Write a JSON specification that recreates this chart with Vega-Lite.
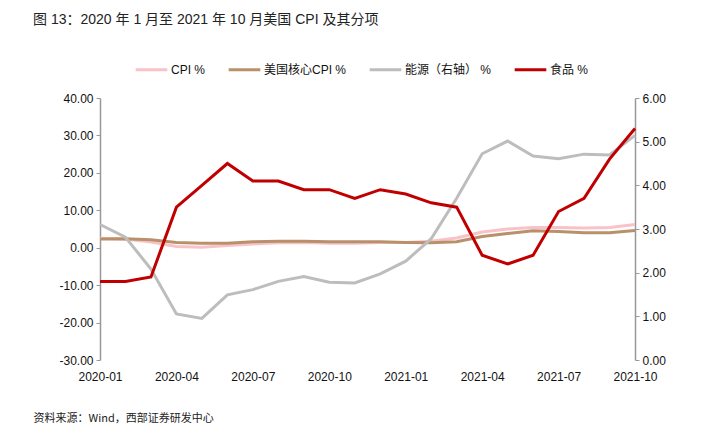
{
  "$schema": "https://vega.github.io/schema/vega-lite/v6.json",
  "width": 535,
  "height": 262,
  "autosize": {"type": "none"},
  "padding": {"left": 100, "top": 98, "right": 79, "bottom": 74},
  "background": "white",
  "title": {
    "text": "图 13：2020 年 1 月至 2021 年 10 月美国 CPI 及其分项",
    "anchor": "start",
    "frame": "group",
    "dx": -67,
    "offset": 25,
    "fontSize": 14,
    "fontWeight": "normal",
    "font": "Liberation Sans, Noto Sans CJK SC",
    "color": "#222222"
  },
  "config": {
    "view": {"stroke": null},
    "font": "Liberation Sans, Noto Sans CJK SC",
    "axis": {"labelFont": "Liberation Sans", "labelFontSize": 12, "labelColor": "#111111", "grid": false},
    "legend": {"labelFont": "Liberation Sans, Noto Sans CJK SC", "labelFontSize": 12, "labelColor": "#111111"}
  },
  "data": {
    "values": [
      {"month": "2020-01", "CPI": 2.5, "core": 2.3, "energy": 6.2, "food": 1.8},
      {"month": "2020-02", "CPI": 2.3, "core": 2.4, "energy": 2.8, "food": 1.8},
      {"month": "2020-03", "CPI": 1.5, "core": 2.1, "energy": -5.7, "food": 1.9},
      {"month": "2020-04", "CPI": 0.3, "core": 1.4, "energy": -17.7, "food": 3.5},
      {"month": "2020-05", "CPI": 0.1, "core": 1.2, "energy": -18.9, "food": 4.0},
      {"month": "2020-06", "CPI": 0.6, "core": 1.2, "energy": -12.6, "food": 4.5},
      {"month": "2020-07", "CPI": 1.0, "core": 1.6, "energy": -11.2, "food": 4.1},
      {"month": "2020-08", "CPI": 1.3, "core": 1.7, "energy": -9.0, "food": 4.1},
      {"month": "2020-09", "CPI": 1.4, "core": 1.7, "energy": -7.7, "food": 3.9},
      {"month": "2020-10", "CPI": 1.2, "core": 1.6, "energy": -9.2, "food": 3.9},
      {"month": "2020-11", "CPI": 1.2, "core": 1.6, "energy": -9.4, "food": 3.7},
      {"month": "2020-12", "CPI": 1.4, "core": 1.6, "energy": -7.0, "food": 3.9},
      {"month": "2021-01", "CPI": 1.4, "core": 1.4, "energy": -3.6, "food": 3.8},
      {"month": "2021-02", "CPI": 1.7, "core": 1.3, "energy": 2.4, "food": 3.6},
      {"month": "2021-03", "CPI": 2.6, "core": 1.6, "energy": 13.2, "food": 3.5},
      {"month": "2021-04", "CPI": 4.2, "core": 3.0, "energy": 25.1, "food": 2.4},
      {"month": "2021-05", "CPI": 5.0, "core": 3.8, "energy": 28.5, "food": 2.2},
      {"month": "2021-06", "CPI": 5.4, "core": 4.5, "energy": 24.5, "food": 2.4},
      {"month": "2021-07", "CPI": 5.4, "core": 4.3, "energy": 23.8, "food": 3.4},
      {"month": "2021-08", "CPI": 5.3, "core": 4.0, "energy": 25.0, "food": 3.7},
      {"month": "2021-09", "CPI": 5.4, "core": 4.0, "energy": 24.8, "food": 4.6},
      {"month": "2021-10", "CPI": 6.2, "core": 4.6, "energy": 30.0, "food": 5.3}
    ]
  },
  "transform": [
    {"fold": ["CPI", "core", "energy", "food"], "as": ["key", "value"]},
    {"lookup": "key", "from": {"data": {"values": [
      {"key": "CPI", "series": "CPI %"},
      {"key": "core", "series": "美国核心CPI %"},
      {"key": "energy", "series": "能源（右轴） %"},
      {"key": "food", "series": "食品 %"}
    ]}, "key": "key", "fields": ["series"]}}
  ],
  "encoding": {
    "x": {
      "field": "month",
      "type": "ordinal",
      "scale": {"type": "point", "padding": 0},
      "axis": {
        "values": ["2020-01", "2020-04", "2020-07", "2020-10", "2021-01", "2021-04", "2021-07", "2021-10"],
        "labelAngle": 0,
        "domain": false,
        "ticks": false,
        "labelPadding": 11,
        "title": "资料来源：Wind，西部证券研发中心",
        "titleFont": "Noto Sans CJK SC",
        "titleFontSize": 11,
        "titleFontWeight": "normal",
        "titleColor": "#222222",
        "titleAnchor": "start",
        "titleAlign": "left",
        "titleBaseline": "middle",
        "titleX": -67,
        "titleY": 58
      }
    }
  },
  "layer": [
    {
      "layer": [
        {
          "transform": [{"filter": "datum.key === 'CPI' && datum.month === '2020-01'"}],
          "mark": {"type": "rule", "color": "#000000", "strokeWidth": 1},
          "encoding": {"y": {"datum": 0, "type": "quantitative"}}
        },
        {
          "transform": [{"filter": "datum.key !== 'food'"}],
          "mark": {"type": "line", "strokeWidth": 3},
          "encoding": {
            "y": {"field": "value", "type": "quantitative"},
            "color": {
              "field": "series",
              "type": "nominal",
              "scale": {
                "domain": ["CPI %", "美国核心CPI %", "能源（右轴） %", "食品 %"],
                "range": ["#F9C2C8", "#B8916B", "#BDBDBD", "#C00000"]
              },
              "legend": {
                "orient": "none",
                "direction": "horizontal",
                "legendX": 34,
                "legendY": -46,
                "title": null,
                "symbolType": "stroke",
                "symbolSize": 1000,
                "symbolStrokeWidth": 3,
                "columnPadding": 16,
                "labelOffset": 2
              }
            },
            "order": {"field": "key"}
          }
        }
      ],
      "encoding": {
        "y": {
          "type": "quantitative",
          "scale": {"domain": [-30, 40], "nice": false, "zero": false},
          "axis": {
            "values": [-30, -20, -10, 0, 10, 20, 30, 40],
            "format": ".2f",
            "labelExpr": "replace(datum.label, '−', '-')",
            "title": null,
            "domainColor": "#999999",
            "domainWidth": 1.5,
            "tickColor": "#999999",
            "tickSize": 4,
            "labelPadding": 3
          }
        }
      }
    },
    {
      "transform": [{"filter": "datum.key === 'food'"}],
      "mark": {"type": "line", "strokeWidth": 3},
      "encoding": {
        "y": {
          "field": "value",
          "type": "quantitative",
          "scale": {"domain": [0, 6], "nice": false},
          "axis": {
            "orient": "right",
            "values": [0, 1, 2, 3, 4, 5, 6],
            "format": ".2f",
            "title": null,
            "domainColor": "#999999",
            "domainWidth": 1.5,
            "tickColor": "#999999",
            "tickSize": 4,
            "labelPadding": 3
          }
        },
        "color": {"field": "series", "type": "nominal"}
      }
    }
  ],
  "resolve": {"scale": {"y": "independent"}}
}
